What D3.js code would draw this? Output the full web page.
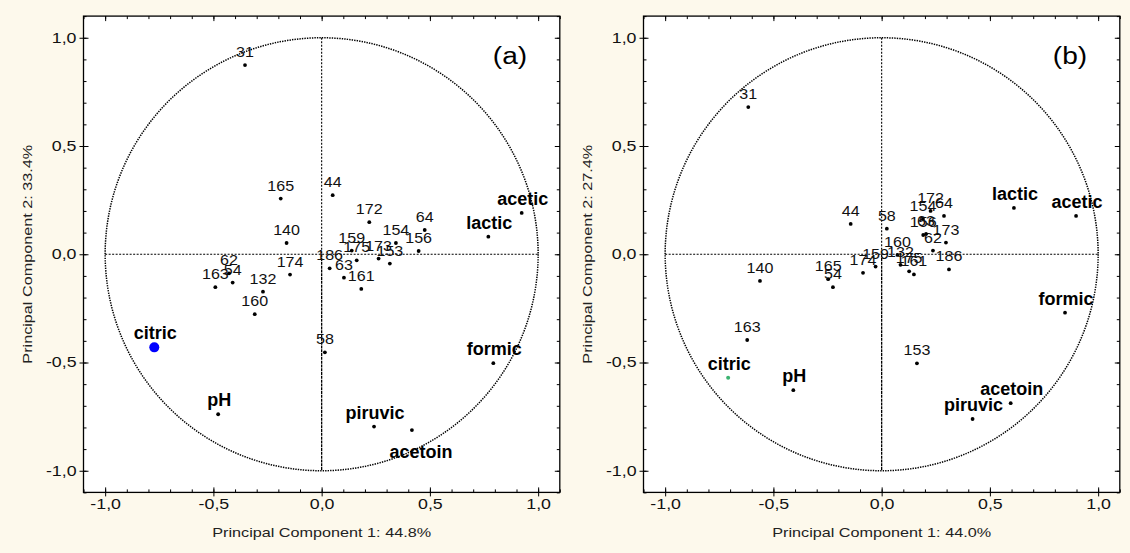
<!DOCTYPE html>
<html>
<head>
<meta charset="utf-8">
<style>
  html, body { margin: 0; padding: 0; background: #fdf9ec; }
  svg { display: block; }
  text { font-family: "Liberation Sans", Arial, sans-serif; }
</style>
</head>
<body>
<div class="container"></div>
<script src="https://d3js.org/d3.v7.min.js"></script>
<script>
// ---- data ----
var samples = ['31','44','54','58','62','63','64','132','140','153','154','156',
               '159','160','161','163','165','172','173','174','175','186'];

var samplePC1a = [-0.354, 0.051, -0.411, 0.015, -0.428, 0.103, 0.476, -0.271, -0.162, 0.315, 0.343, 0.448,
                   0.139, -0.309, 0.183, -0.491, -0.189, 0.220, 0.263, -0.146, 0.162, 0.037];
var samplePC2a = [ 0.874, 0.273, -0.131, -0.453, -0.088, -0.108, 0.112, -0.173, 0.052, -0.043, 0.052, 0.015,
                   0.017, -0.277, -0.160, -0.152, 0.257, 0.148, -0.020, -0.094, -0.028, -0.065];

var samplePC1b = [-0.616, -0.143, -0.225, 0.024, 0.237, 0.205, 0.288, 0.087, -0.562, 0.163, 0.191, 0.192,
                  -0.028, 0.073, 0.149, -0.621, -0.247, 0.226, 0.297, -0.086, 0.127, 0.311];
var samplePC2b = [ 0.680, 0.140, -0.152, 0.118, 0.017, 0.094, 0.177, -0.049, -0.123, -0.504, 0.163, 0.089,
                  -0.057, -0.003, -0.093, -0.396, -0.115, 0.200, 0.054, -0.086, -0.079, -0.070];

var variables = ['acetic','lactic','formic','citric','pH','piruvic','acetoin'];
var varPC1a = [0.924, 0.770, 0.793, -0.773, -0.478, 0.242, 0.417];
var varPC2a = [0.191, 0.081, -0.503, -0.430, -0.739, -0.796, -0.812];
var varPC1b = [0.898, 0.611, 0.847, -0.709, -0.408, 0.420, 0.596];
var varPC2b = [0.177, 0.214, -0.270, -0.571, -0.628, -0.761, -0.688];

var majorTicks = [-1, -0.5, 0, 0.5, 1];
var minorTicks = d3.range(-11, 12).map(function(i) { return i / 10; });

var panelNames = ['(a)', '(b)'];
var xTitles = ['Principal Component 1: 44.8%', 'Principal Component 1: 44.0%'];
var yTitles = ['Principal Component 2: 33.4%', 'Principal Component 2: 27.4%'];

// ---- drawing ----
var W = 1130, H = 553;
var svg = d3.select('.container').append('svg').attr('width', W).attr('height', H);
svg.append('rect').attr('width', W).attr('height', H).attr('fill', '#fdf9ec');

var fmt = function(d) { return d3.format('.1f')(d).replace('.', ',').replace('\u2212', '-'); };

// wide glyphs like the original renderer
function stretch(sel, k) {
  sel.each(function() {
    var L = this.getComputedTextLength();
    d3.select(this).attr('textLength', L * k).attr('lengthAdjust', 'spacingAndGlyphs');
  });
}

var lefts = [83.5, 643.5];
var plotTop = 16.1, size = 476.3;

function drawPanel(p, pc1, pc2, v1, v2) {
  var x = d3.scaleLinear().domain([-1.1, 1.1]).range([lefts[p], lefts[p] + size]);
  var y = d3.scaleLinear().domain([-1.1, 1.1]).range([plotTop + size, plotTop]);
  var g = svg.append('g');

  g.append('rect')
    .attr('x', x(-1.1)).attr('y', y(1.1))
    .attr('width', size).attr('height', size)
    .attr('fill', '#fff');

  // circle and cross
  g.append('circle')
    .attr('cx', x(0)).attr('cy', y(0)).attr('r', x(1) - x(0))
    .attr('fill', 'none').attr('stroke', '#000')
    .attr('stroke-width', 1.5).attr('stroke-dasharray', '1.4,1.1');
  g.append('line')
    .attr('x1', x(-1)).attr('x2', x(1)).attr('y1', y(0)).attr('y2', y(0))
    .attr('stroke', '#000').attr('stroke-width', 1.1).attr('stroke-dasharray', '2,1.5');
  g.append('line')
    .attr('x1', x(0)).attr('x2', x(0)).attr('y1', y(1)).attr('y2', y(0))
    .attr('stroke', '#000').attr('stroke-width', 1.1).attr('stroke-dasharray', '2,1.5');
  g.append('line')
    .attr('x1', x(0)).attr('x2', x(0)).attr('y1', y(0)).attr('y2', y(-1))
    .attr('stroke', '#000').attr('stroke-width', 1.3).attr('stroke-dasharray', '3,0.8');

  // axes
  var bottom = g.append('g').attr('transform', 'translate(0,' + y(-1.1) + ')')
    .call(d3.axisBottom(x).tickValues(majorTicks).tickSizeInner(4).tickSizeOuter(0).tickPadding(3).tickFormat(fmt));
  var left = g.append('g').attr('transform', 'translate(' + x(-1.1) + ',0)')
    .call(d3.axisLeft(y).tickValues(majorTicks).tickSizeInner(4).tickSizeOuter(0).tickPadding(3).tickFormat(fmt));
  [bottom, left].forEach(function(a) {
    a.select('.domain').remove();
    a.selectAll('text').attr('font-size', 14).attr('fill', '#111').attr('font-family', '"Liberation Sans", Arial, sans-serif');
    stretch(a.selectAll('text'), 1.27);
  });

  [[d3.axisBottom, y(-1.1)], [d3.axisTop, y(1.1)]].forEach(function(s) {
    g.append('g').attr('transform', 'translate(0,' + s[1] + ')')
      .call(s[0](x).tickValues(minorTicks).tickSize(-3).tickFormat(''))
      .call(function(a) { a.select('.domain').remove(); });
    g.append('g').attr('transform', 'translate(0,' + s[1] + ')')
      .call(s[0](x).tickValues(majorTicks).tickSize(-5).tickFormat(''))
      .call(function(a) { a.select('.domain').remove(); });
  });
  [[d3.axisLeft, x(-1.1)], [d3.axisRight, x(1.1)]].forEach(function(s) {
    g.append('g').attr('transform', 'translate(' + s[1] + ',0)')
      .call(s[0](y).tickValues(minorTicks).tickSize(-3).tickFormat(''))
      .call(function(a) { a.select('.domain').remove(); });
    g.append('g').attr('transform', 'translate(' + s[1] + ',0)')
      .call(s[0](y).tickValues(majorTicks).tickSize(-5).tickFormat(''))
      .call(function(a) { a.select('.domain').remove(); });
  });

  g.append('rect')
    .attr('x', x(-1.1)).attr('y', y(1.1))
    .attr('width', size).attr('height', size)
    .attr('fill', 'none').attr('stroke', '#000').attr('stroke-width', 1.3);

  // titles
  var xt = g.append('text')
    .attr('x', x(0)).attr('y', 537)
    .attr('text-anchor', 'middle').attr('font-size', 13.5).attr('fill', '#222')
    .text(xTitles[p]);
  stretch(xt, 1.2);
  var yt = g.append('text')
    .attr('transform', 'translate(' + (x(-1.1) - 52) + ',' + y(0) + ') rotate(-90)')
    .attr('text-anchor', 'middle').attr('font-size', 13.5).attr('fill', '#222')
    .text(yTitles[p]);
  stretch(yt, 1.2);
  var pn = g.append('text')
    .attr('x', x(0.87)).attr('y', 64)
    .attr('text-anchor', 'middle').attr('font-size', 23).attr('fill', '#000')
    .text(panelNames[p]);
  stretch(pn, 1.22);

  // samples
  samples.forEach(function(s, i) {
    g.append('circle')
      .attr('cx', x(pc1[i])).attr('cy', y(pc2[i])).attr('r', 1.9).attr('fill', '#000');
    var t = g.append('text')
      .attr('x', x(pc1[i])).attr('y', y(pc2[i]) - 8)
      .attr('text-anchor', 'middle').attr('font-size', 15).attr('fill', '#111')
      .text(s);
    stretch(t, 1.07);
  });

  // variables
  variables.forEach(function(v, i) {
    var isCitric = v === 'citric';
    g.append('circle')
      .attr('cx', x(v1[i])).attr('cy', y(v2[i]))
      .attr('r', isCitric ? (p === 0 ? 5 : 2) : 1.9)
      .attr('fill', isCitric ? (p === 0 ? '#0000ff' : '#3cb371') : '#000');
    var below = (p === 0 && v === 'acetoin');
    g.append('text')
      .attr('x', x(v1[i]) + (below ? 9 : 1)).attr('y', y(v2[i]) + (below ? 28 : -8))
      .attr('text-anchor', 'middle').attr('font-size', 18).attr('font-weight', 'bold').attr('fill', '#000')
      .text(v);
  });
}

drawPanel(0, samplePC1a, samplePC2a, varPC1a, varPC2a);
drawPanel(1, samplePC1b, samplePC2b, varPC1b, varPC2b);
</script>
</body>
</html>
